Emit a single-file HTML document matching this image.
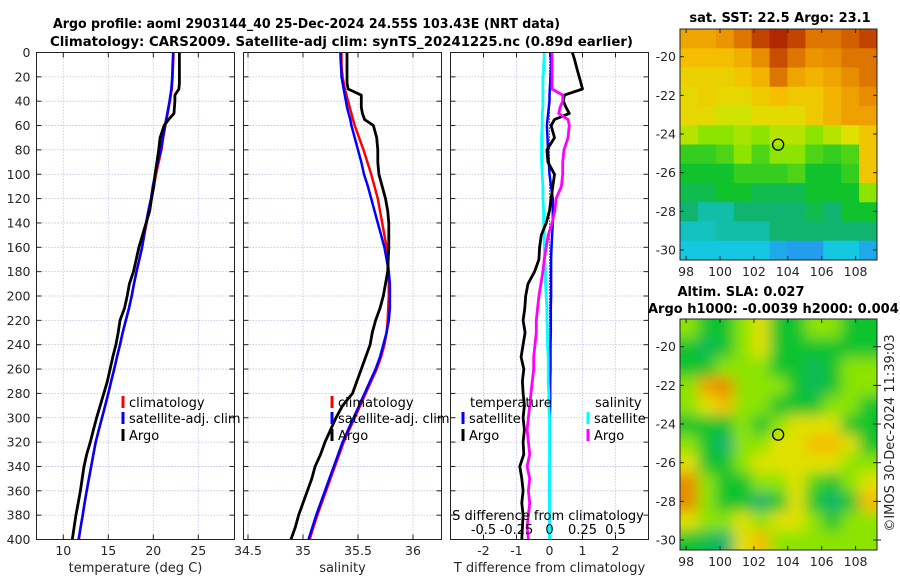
<!DOCTYPE html>
<html><head><meta charset="utf-8">
<style>
html,body{margin:0;padding:0;background:#fff;}
svg{display:block;font-family:"DejaVu Sans","Liberation Sans",sans-serif;}
.tl{font-size:12.5px;fill:#262626;}
.tt{font-size:13px;font-weight:bold;fill:#000;}
.lg{font-size:13px;fill:#000;}
</style></head>
<body>
<svg id="fig" width="900" height="580" viewBox="0 0 900 580" xmlns="http://www.w3.org/2000/svg">
<defs>
<clipPath id="c1"><rect x="36.5" y="52.5" width="198" height="487"/></clipPath>
<clipPath id="c2"><rect x="243.5" y="52.5" width="198" height="487"/></clipPath>
<clipPath id="c3"><rect x="450.5" y="52.5" width="198" height="487"/></clipPath>
<clipPath id="cm1"><rect x="680" y="29" width="197" height="231"/></clipPath>
<clipPath id="cm2"><rect x="680" y="319" width="197" height="231"/></clipPath>
<filter id="blur" x="-10%" y="-10%" width="120%" height="120%"><feGaussianBlur stdDeviation="7"/></filter>
</defs>
<text class="tt" x="53" y="28" textLength="507" lengthAdjust="spacingAndGlyphs">Argo profile: aoml 2903144_40 25-Dec-2024 24.55S 103.43E (NRT data)</text>
<text class="tt" x="50" y="46" textLength="583" lengthAdjust="spacingAndGlyphs">Climatology: CARS2009. Satellite-adj clim: synTS_20241225.nc (0.89d earlier)</text>
<g id="p1"></g>
<g id="p2"></g>
<g id="p3"></g>
<g id="m1"></g>
<g id="m2"></g>
<text class="tt" x="780" y="22" text-anchor="middle">sat. SST: 22.5 Argo: 23.1</text>
<text class="tt" x="741" y="296" text-anchor="middle">Altim. SLA: 0.027</text>
<text class="tt" x="648" y="313">Argo h1000: -0.0039 h2000: 0.004</text>
<text class="tl" transform="translate(894,433) rotate(-90)" text-anchor="middle" style="font-size:13px">©IMOS 30-Dec-2024 11:39:03</text>
</svg>
<script>
const depth=[0,5,10,15,20,25,30,35,40,45,50,55,60,70,80,90,100,110,120,130,140,150,160,170,180,190,200,210,220,230,240,250,260,270,280,290,300,310,320,330,340,350,360,370,380,390,400];
const tempClim=[22.25,22.22,22.2,22.17,22.14,22.1,22.05,21.95,21.85,21.72,21.6,21.47,21.35,21.1,20.9,20.6,20.3,20.05,19.8,19.5,19.25,19.0,18.75,18.45,18.15,17.87,17.6,17.3,16.95,16.6,16.3,15.97,15.65,15.32,15.0,14.65,14.3,13.95,13.6,13.35,13.1,12.85,12.6,12.37,12.15,11.92,11.72];
const tempSat=[22.2,22.18,22.15,22.12,22.1,22.05,22.0,21.9,21.8,21.68,21.55,21.42,21.3,21.05,20.84,20.5,20.2,19.95,19.74,19.45,19.2,18.97,18.75,18.45,18.13,17.85,17.6,17.3,16.95,16.6,16.3,15.97,15.65,15.32,15.0,14.65,14.3,13.95,13.6,13.35,13.1,12.85,12.6,12.37,12.15,11.92,11.7];
const tempArgo=[22.9,22.9,22.9,22.9,22.9,22.9,22.85,22.4,22.4,22.35,22.3,21.7,21.2,20.75,20.6,20.4,20.2,20.05,19.8,19.6,19.2,18.8,18.4,18.1,17.8,17.35,17.1,16.8,16.3,16.1,15.85,15.5,15.2,14.9,14.5,14.1,13.7,13.35,13.0,12.6,12.3,12.1,11.9,11.65,11.4,11.2,11.0];
const salClim=[35.35,35.35,35.35,35.355,35.36,35.37,35.38,35.395,35.41,35.425,35.44,35.455,35.47,35.51,35.55,35.585,35.62,35.65,35.68,35.70,35.72,35.74,35.76,35.77,35.78,35.78,35.78,35.775,35.77,35.76,35.74,35.71,35.67,35.62,35.57,35.52,35.47,35.42,35.37,35.33,35.29,35.25,35.21,35.17,35.13,35.095,35.06];
const salSat=[35.34,35.342,35.345,35.348,35.35,35.36,35.37,35.38,35.39,35.40,35.415,35.43,35.44,35.47,35.50,35.53,35.555,35.59,35.62,35.65,35.68,35.71,35.74,35.76,35.78,35.79,35.79,35.79,35.78,35.76,35.73,35.70,35.66,35.61,35.56,35.51,35.46,35.41,35.36,35.32,35.28,35.24,35.20,35.16,35.12,35.085,35.05];
const salArgo=[35.40,35.40,35.40,35.40,35.40,35.40,35.41,35.53,35.53,35.53,35.54,35.56,35.64,35.67,35.68,35.68,35.69,35.72,35.75,35.77,35.78,35.78,35.78,35.775,35.77,35.75,35.73,35.70,35.66,35.63,35.61,35.57,35.53,35.49,35.45,35.36,35.30,35.25,35.20,35.16,35.11,35.08,35.04,35.0,34.96,34.93,34.89];
const dTArgo=[0.69,0.75,0.8,0.85,0.9,0.95,1.0,0.45,0.42,0.5,0.6,0.15,0.05,0.15,-0.08,-0.05,0.15,0.1,0.05,0.0,-0.1,-0.25,-0.3,-0.32,-0.45,-0.65,-0.72,-0.75,-0.8,-0.74,-0.8,-0.86,-0.78,-0.82,-0.8,-0.76,-0.8,-0.76,-0.8,-0.78,-0.9,-0.84,-0.8,-0.84,-0.8,-0.82,-0.84];
const dTSat=[0.05,0.05,0.05,0.04,0.03,0.02,0.01,0.0,0.0,-0.02,-0.04,-0.06,-0.08,-0.06,-0.05,-0.02,0.0,0.05,0.1,0.1,0.1,0.08,0.06,0.05,0.05,0.05,0.05,0.04,0.04,0.04,0.03,0.03,0.03,0.02,0.02,0.02,0.01,0.01,0.01,0.01,0.0,0.0,0.0,0.0,0.0,0.0,0.0];
const dSSat=[-0.04,-0.04,-0.045,-0.045,-0.05,-0.05,-0.05,-0.05,-0.05,-0.05,-0.055,-0.055,-0.055,-0.06,-0.06,-0.06,-0.055,-0.05,-0.05,-0.045,-0.045,-0.04,-0.04,-0.035,-0.03,-0.03,-0.025,-0.02,-0.02,-0.015,-0.015,-0.01,-0.01,-0.01,-0.005,-0.005,0,0,0,0,0,0,0,0,0,0,0];
const dSArgo=[0.02,0.02,0.02,0.02,0.02,0.02,0.02,0.1,0.1,0.08,0.07,0.14,0.15,0.14,0.11,0.1,0.1,0.09,0.05,0.04,0.02,-0.01,-0.025,-0.04,-0.05,-0.065,-0.08,-0.09,-0.1,-0.1,-0.11,-0.12,-0.12,-0.13,-0.14,-0.15,-0.16,-0.17,-0.16,-0.15,-0.17,-0.15,-0.16,-0.15,-0.16,-0.17,-0.16];
const depthTicks=[0,20,40,60,80,100,120,140,160,180,200,220,240,260,280,300,320,340,360,380,400];
const tempTicks=[10,15,20,25];
const salTicks=[34.5,35,35.5,36];
const salTickLabels=["34.5","35","35.5","36"];
const dTTicks=[-2,-1,0,1,2];
const dSTicks=[-0.5,-0.25,0,0.25,0.5];
const dSTickLabels=["-0.5","-0.25","0","0.25","0.5"];
const lonTicks=[98,100,102,104,106,108];
const latTicks=[-20,-22,-24,-26,-28,-30];
const argoLon=103.43, argoLat=-24.55;
// SST map: colour index (0 blue .. 10 dark red), rows lat -19..-30, cols lon 98..108
const sstGrid=[
[7.5,7.5,7.8,8.5,9.5,10,9.5,8.5,8.5,9,9.5],
[7,7,7,7.3,8,9.3,8.5,7.8,8,8.5,8.5],
[6.5,6.5,6.5,6.8,7.2,8.5,7.5,7.2,7.5,8,8.5],
[6.3,6.5,6.3,6.3,6.7,7,6.7,6.7,7.2,7.6,8],
[6.3,6.3,5.8,5.8,6.2,6.2,6.2,6.7,7.2,7.6,7.6],
[5.5,5,5,5.3,5,5.5,5.5,5,5.5,6,6.8],
[4.3,4.3,4.5,5,4.5,5,5,4.5,4.3,4.5,6.8],
[4,4,4,4.3,4.3,4.3,4.5,4,4,4.3,6.8],
[3.5,3.5,4,4,3.5,3.5,3.5,4,4,4,5],
[3,2.5,2.5,3,3,3,3,3.5,3,4,4],
[2.3,2.3,2.5,2.5,2.5,3,3,3,3,3,3],
[2,2,2,2,2,1.5,1.3,1.3,2,2,1.5]];
const slaGrid=[
[5,4,4,5,6,4,4,5,5,4,4],
[4,3.3,4,5,6,4,4,4,4,4,4],
[4,4,5,5,5,4,4,3.3,4,5,5],
[5,7.5,8,5,5,5,4,3.3,4,5,5],
[5,6,7,5,5,4,4,4,5,5,4],
[4,4,4,5,4,5,6,6,6,4,4],
[5,4,3,5,5,6,6,7,7,6,4],
[6,4,4,5,6,6,6,6,6,5,5],
[8,5,4,4,5,5,6,4.5,4,5,6],
[8,5,4,4,3,4,6,4,3,4,7],
[6,5,5,6,5,6,6,5,4,5,5],
[4,3.5,3,6,7,5,5,5,5,5,5]];

const NS='http://www.w3.org/2000/svg';
function mk(tag,attrs,parent){const e=document.createElementNS(NS,tag);for(const k in attrs)e.setAttribute(k,attrs[k]);parent.appendChild(e);return e;}
const yD=d=>52.5+d*1.2175;
const xT=t=>63.3+(t-10)*9;
const xS=s=>303+(s-35)*110;
const xDT=v=>549.5+v*33;
const xDS=v=>549.5+v*132;

function panel(g,x0,clip,xticks,xlabels,xfun,title,showY){
  mk('rect',{x:x0,y:52.5,width:198,height:487,fill:'#fff'},g);
  const grid=mk('g',{},g);
  
  
  depthTicks.forEach(d=>{mk('line',{x1:x0,x2:x0+198,y1:yD(d),y2:yD(d),stroke:'#b8c0e8','stroke-width':0.8,'stroke-dasharray':'1.5,1.5'},grid);
    mk('line',{x1:x0,x2:x0+5,y1:yD(d),y2:yD(d),stroke:'#222'},g);mk('line',{x1:x0+198-5,x2:x0+198,y1:yD(d),y2:yD(d),stroke:'#222'},g);
    if(showY){const t=mk('text',{x:x0-6,y:yD(d)+4.5,'text-anchor':'end',class:'tl'},g);t.textContent=d;
      
      }
  });
  xticks.forEach((v,i)=>{const x=xfun(v);mk('line',{x1:x,x2:x,y1:52.5,y2:539.5,stroke:'#c0c4e8','stroke-width':0.8,'stroke-dasharray':'1.5,1.5'},grid);
    mk('line',{x1:x,x2:x,y1:539.5,y2:534.5,stroke:'#222'},g);mk('line',{x1:x,x2:x,y1:52.5,y2:57.5,stroke:'#222'},g);
    const t=mk('text',{x:x,y:555,'text-anchor':'middle',class:'tl'},g);t.textContent=xlabels[i];
    
    });
  const tt=mk('text',{x:x0+99,y:572,'text-anchor':'middle',class:'tl',style:'font-size:13px'},g);tt.textContent=title;
  
  
  return mk('g',{'clip-path':'url(#'+clip+')'},g);
}
function line(g,xs,xf,color,w,name){
  const pts=depth.map((d,i)=>xf(xs[i]).toFixed(1)+','+yD(d).toFixed(1)).join(' ');
  const p=mk('polyline',{points:pts,fill:'none',stroke:color,'stroke-width':w,'stroke-linejoin':'round'},g);
  
  
}
function frame(g,x0){mk('rect',{x:x0,y:52.5,width:198,height:487,fill:'none',stroke:'#222','stroke-width':1},g);}
function legendEntry(g,x,y,color,label,name){
  mk('rect',{x:x-1.5,y:y-11,width:3,height:12,fill:color},g);
  const t=mk('text',{x:x+6,y:y,class:'lg'},g);t.textContent=label;
  
  
}

// Panel 1
const p1=document.getElementById('p1');
const c1=panel(p1,36.5,'c1',tempTicks,tempTicks.map(String),xT,'temperature (deg C)',true);
line(c1,tempClim,xT,'#f00',2.5,'temp-climatology-line');
line(c1,tempSat,xT,'#00f',2.5,'temp-satellite-line');
line(c1,tempArgo,xT,'#000',2.8,'temp-argo-line');
frame(p1,36.5);
legendEntry(p1,123,407,'#f00','climatology','legend-climatology');
legendEntry(p1,123,423,'#00f','satellite-adj. clim','legend-satellite');
legendEntry(p1,123,440,'#000','Argo','legend-argo');

// Panel 2
const p2=document.getElementById('p2');
const c2=panel(p2,243.5,'c2',salTicks,salTickLabels,xS,'salinity',false);
line(c2,salClim,xS,'#f00',2.5,'sal-climatology-line');
line(c2,salSat,xS,'#00f',2.5,'sal-satellite-line');
line(c2,salArgo,xS,'#000',2.8,'sal-argo-line');
frame(p2,243.5);
legendEntry(p2,332,407,'#f00','climatology','legend-climatology');
legendEntry(p2,332,423,'#00f','satellite-adj. clim','legend-satellite');
legendEntry(p2,332,440,'#000','Argo','legend-argo');

// Panel 3
const p3=document.getElementById('p3');
const c3=panel(p3,450.5,'c3',dTTicks,dTTicks.map(String),xDT,'T difference from climatology',false);
mk('line',{x1:549.5,x2:549.5,y1:52.5,y2:539.5,stroke:'#000','stroke-width':1,'stroke-dasharray':'1,2'},c3);
line(c3,dTSat,xDT,'#00f',2.5,'temp-diff-satellite-line');
line(c3,dSSat,xDS,'#0ff',2.8,'sal-diff-satellite-line');
line(c3,dTArgo,xDT,'#000',2.8,'temp-diff-argo-line');
line(c3,dSArgo,xDS,'#f0f',2.8,'sal-diff-argo-line');
frame(p3,450.5);
const lt=mk('text',{x:470,y:407,class:'lg'},p3);lt.textContent='temperature';


const ls=mk('text',{x:595,y:407,class:'lg'},p3);ls.textContent='salinity';


legendEntry(p3,463,423,'#00f','satellite','legend-temp-satellite');
legendEntry(p3,463,440,'#000','Argo','legend-temp-argo');
legendEntry(p3,588,423,'#0ff','satellite','legend-sal-satellite');
legendEntry(p3,588,440,'#f0f','Argo','legend-sal-argo');
const st=mk('text',{x:548,y:520,'text-anchor':'middle',class:'lg'},p3);st.textContent='S difference from climatology';


dSTicks.forEach((v,i)=>{const t=mk('text',{x:xDS(v),y:534,'text-anchor':'middle',class:'lg'},p3);t.textContent=dSTickLabels[i];
  
  });

// Maps
const stops=[[0,[30,80,255]],[1,[40,140,240]],[2,[20,200,225]],[3,[16,180,110]],[4,[16,195,45]],[5,[140,228,0]],[6,[225,225,0]],[7,[245,190,0]],[8,[232,140,0]],[9,[210,95,0]],[10,[175,40,0]]];
function cmap(v){v=Math.max(0,Math.min(10,v));const i=Math.min(9,Math.floor(v));const f=v-i;const a=stops[i][1],b=stops[i+1][1];
  return 'rgb('+a.map((c,k)=>Math.round(c+(b[k]-c)*f)).join(',')+')';}
const xLon=lon=>720+(lon-100)*16.95;
function drawMap(g,gridv,y0,clip,blur,right){
  const yLat=lat=>y0+27.7+(-20-lat)*19.33;
  const cg=mk('g',{'clip-path':'url(#'+clip+')'},g);
  const cw=197/11,ch=231/12;
  mk('rect',{x:680,y:y0,width:197,height:231,fill:cmap(4.5)},cg);
  const inner=mk('g',blur?{filter:'url(#blur)'}:{},cg);
  gridv.forEach((row,r)=>row.forEach((v,c)=>{
    let x=680+c*cw,y=y0+r*ch,w=cw+0.6,h=ch+0.6;
    if(blur){if(c===0){x-=12;w+=12;}if(c===10)w+=12;if(r===0){y-=12;h+=12;}if(r===11)h+=12;}
    const cell=mk('rect',{x:x,y:y,width:w,height:h,fill:cmap(v)},inner);
    
    
  }));
  const m=mk('circle',{cx:xLon(argoLon),cy:yLat(argoLat),r:5.5,fill:'none',stroke:'#000','stroke-width':1.3},g);
  
  
  mk('rect',{x:680,y:y0,width:197,height:231,fill:'none',stroke:'#222','stroke-width':1},g);
  lonTicks.forEach(l=>{const x=xLon(l);mk('line',{x1:x,x2:x,y1:y0,y2:y0+4,stroke:'#222'},g);mk('line',{x1:x,x2:x,y1:y0+231,y2:y0+227,stroke:'#222'},g);
    const t=mk('text',{x:x,y:y0+247,'text-anchor':'middle',class:'tl'},g);t.textContent=l;
    
    });
  latTicks.forEach(l=>{const y=yLat(l);mk('line',{x1:680,x2:684,y1:y,y2:y,stroke:'#222'},g);mk('line',{x1:877,x2:873,y1:y,y2:y,stroke:'#222'},g);
    const t=mk('text',{x:676,y:y+4.5,'text-anchor':'end',class:'tl'},g);t.textContent=l;
    
    
    if(right)mk('line',{x1:877,x2:881,y1:y,y2:y,stroke:'#222'},g);});
}
drawMap(document.getElementById('m1'),sstGrid,29,'cm1',false,false);
drawMap(document.getElementById('m2'),slaGrid,319,'cm2',true,true);
</script>
</body></html>
